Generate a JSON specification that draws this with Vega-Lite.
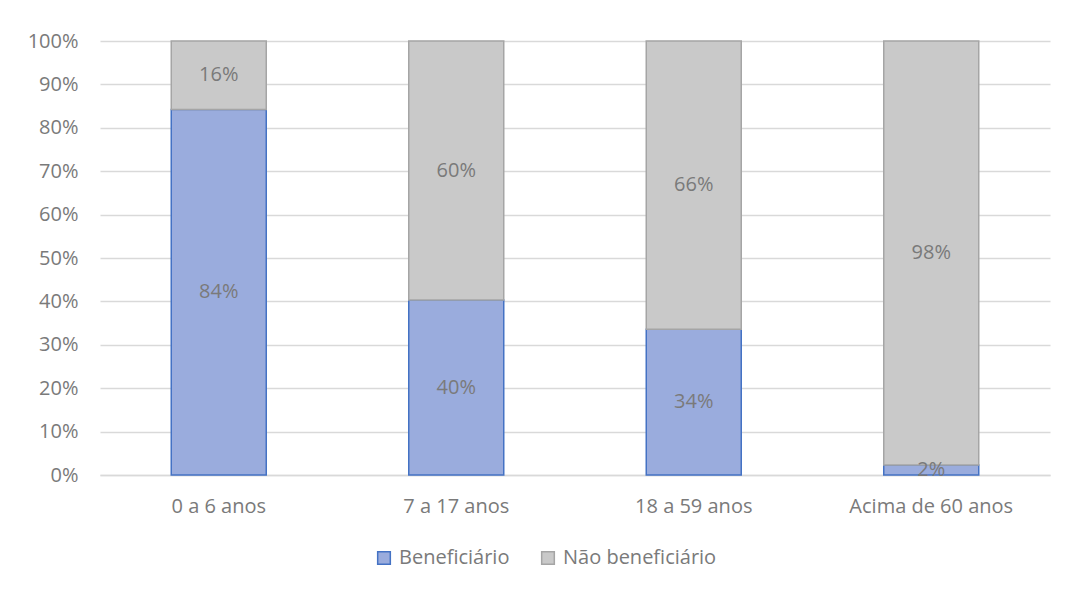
{
  "$schema": "https://vega.github.io/schema/vega-lite/v6.json",
  "autosize": {"type": "none"},
  "width": 950,
  "height": 434,
  "padding": {"left": 100, "top": 41, "right": 17, "bottom": 114},
  "background": "white",
  "config": {
    "view": {"stroke": null},
    "font": "Open Sans",
    "axis": {"labelFont": "Open Sans", "labelFontSize": 20, "labelColor": "#7a7a7a", "titleFontSize": 0},
    "legend": {"labelFont": "Open Sans", "labelFontSize": 20, "labelColor": "#7a7a7a"}
  },
  "data": {
    "values": [
      {"faixa": "0 a 6 anos", "grupo": "Beneficiário", "valor": 0.842},
      {"faixa": "0 a 6 anos", "grupo": "Não beneficiário", "valor": 0.158},
      {"faixa": "7 a 17 anos", "grupo": "Beneficiário", "valor": 0.403},
      {"faixa": "7 a 17 anos", "grupo": "Não beneficiário", "valor": 0.597},
      {"faixa": "18 a 59 anos", "grupo": "Beneficiário", "valor": 0.336},
      {"faixa": "18 a 59 anos", "grupo": "Não beneficiário", "valor": 0.664},
      {"faixa": "Acima de 60 anos", "grupo": "Beneficiário", "valor": 0.023},
      {"faixa": "Acima de 60 anos", "grupo": "Não beneficiário", "valor": 0.977}
    ]
  },
  "encoding": {
    "x": {
      "field": "faixa", "type": "nominal", "sort": null,
      "scale": {"paddingInner": 0.6, "paddingOuter": 0.3},
      "axis": {"title": null, "labelAngle": 0, "ticks": false, "labelPadding": 21, "domainColor": "#d9d9d9", "domainWidth": 1.5}
    },
    "order": {"field": "grupo", "sort": "ascending"}
  },
  "layer": [
    {
      "mark": {"type": "bar", "strokeWidth": 1.5},
      "encoding": {
        "y": {
          "field": "valor", "type": "quantitative", "stack": "zero",
          "scale": {"domain": [0, 1]},
          "axis": {"title": null, "format": ".0%", "values": [0, 0.1, 0.2, 0.3, 0.4, 0.5, 0.6, 0.7, 0.8, 0.9, 1], "ticks": false, "domain": false, "labelPadding": 22, "gridColor": "#d9d9d9", "gridWidth": 1.5}
        },
        "fill": {
          "field": "grupo", "type": "nominal",
          "scale": {"domain": ["Beneficiário", "Não beneficiário"], "range": ["#9aacdd", "#c9c9c9"]},
          "legend": {"title": null, "orient": "none", "legendX": 274, "legendY": 507, "direction": "horizontal", "symbolType": "square", "symbolSize": 160, "symbolStrokeWidth": 1.5, "columnPadding": 28, "labelOffset": 5}
        },
        "stroke": {
          "field": "grupo", "type": "nominal",
          "scale": {"domain": ["Beneficiário", "Não beneficiário"], "range": ["#4472c4", "#a5a5a5"]},
          "legend": {"title": null, "orient": "none", "legendX": 274, "legendY": 507, "direction": "horizontal", "symbolType": "square", "symbolSize": 160, "symbolStrokeWidth": 1.5, "columnPadding": 28, "labelOffset": 5}
        }
      }
    },
    {
      "mark": {"type": "text", "fontSize": 20, "color": "#7a7a7a", "font": "Open Sans", "baseline": "middle"},
      "encoding": {
        "y": {"field": "valor", "type": "quantitative", "stack": "zero", "bandPosition": 0.5},
        "detail": {"field": "grupo", "type": "nominal"},
        "text": {"field": "valor", "type": "quantitative", "format": ".0%"}
      }
    }
  ]
}
